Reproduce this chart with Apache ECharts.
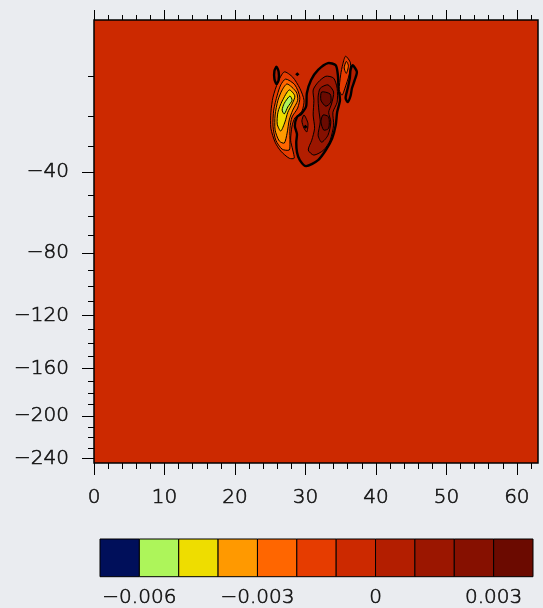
<!DOCTYPE html>
<html>
<head>
<meta charset="utf-8">
<script src="https://cdn.jsdelivr.net/npm/echarts@6/dist/echarts.min.js"></script>
<style>
  html, body { margin: 0; padding: 0; background: #eaecf0; }
  #main { width: 543px; height: 608px; }
</style>
</head>
<body>
<div id="main"></div>
<script>
// contour levels and colours (colorbar)
var LEVELS = [-0.006, -0.005, -0.004, -0.003, -0.002, -0.001, 0, 0.001, 0.002, 0.003];
var FILL_COLORS = ['#000f5a', '#adf55a', '#eedd00', '#ff9900', '#ff6600', '#e63c00',
                   '#cc2900', '#b31e00', '#9b1600', '#861000', '#6b0a00'];
var BAR_LABEL_AT = [-0.006, -0.003, 0, 0.003];

// axes
var X_MAJOR = [0, 10, 20, 30, 40, 50, 60];
var X_MINOR = [2, 4, 6, 8, 12, 14, 16, 18, 22, 24, 26, 28, 32, 34, 36, 38, 42, 44, 46, 48, 52, 54, 56, 58, 62];
var Y_MAJOR = [40, 80, 120, 160, 200, 240];           // depth, shown as negative
var Y_MINOR = [10, 20, 30, 50, 60, 70, 90, 100, 110, 130, 140, 150, 170, 180, 190, 210, 220, 230];
var DEPTH_TOP = 1.5, DEPTH_BOTTOM = 244.4;
var DEPTH_POW = 0.52;   // stretched depth axis

// contour outlines, [x, depth]
var neg1 = [[27.0,9.0],[28.2,10.1],[29.2,12.6],[29.8,15.6],[29.5,18.6],[28.5,20.6],[28.1,23.1],[27.9,27.8],[28.2,31.3],[28.4,34.4],[27.7,34.4],[26.5,31.7],[25.7,28.5],[25.1,23.8],[25.1,18.9],[25.4,14.8],[26.1,11.2]];
var neg2 = [[27.2,10.5],[28.5,11.8],[29.2,14.8],[28.9,17.7],[28.1,20.3],[27.8,23.8],[27.8,28.8],[27.7,31.3],[26.7,31.0],[25.8,27.8],[25.4,23.1],[25.5,18.3],[26.0,14.3],[26.5,11.8]];
var neg3 = [[27.4,11.6],[28.7,13.5],[28.9,15.6],[28.2,18.3],[27.7,21.2],[27.4,25.4],[27.0,28.8],[26.3,28.1],[25.7,24.4],[25.7,19.7],[26.1,15.6],[26.7,13.0]];
var neg4 = [[27.7,13.0],[28.5,14.5],[28.1,16.6],[27.5,18.9],[27.1,21.8],[26.5,24.7],[26.0,22.5],[26.1,18.9],[26.7,15.8]];
var neg5 = [[27.8,14.5],[28.1,15.6],[27.5,17.4],[27.0,19.4],[26.7,18.3],[27.0,16.4]];
var pos0 = [[31.8,8.6],[33.2,7.3],[34.3,7.7],[34.6,9.6],[34.7,12.6],[34.9,15.6],[34.5,18.9],[34.3,22.8],[33.8,27.1],[32.9,31.3],[31.8,35.1],[30.1,37.5],[29.2,35.1],[28.8,32.1],[28.7,28.5],[28.8,25.7],[28.5,23.1],[28.8,20.3],[29.4,19.4],[30.1,17.2],[30.2,13.8],[30.8,10.7]];
var pos1 = [[31.8,11.2],[32.9,9.9],[34.0,10.3],[34.5,12.6],[34.5,16.1],[33.9,18.9],[34.0,22.8],[33.5,27.8],[32.6,31.3],[31.2,33.2],[30.4,31.3],[30.9,27.8],[31.3,23.8],[31.1,19.7],[31.2,15.6],[31.1,13.0]];
var pos2 = [[32.1,12.6],[33.2,11.8],[34.0,13.5],[33.7,16.6],[33.3,18.9],[33.6,21.8],[33.2,26.1],[32.3,28.5],[31.8,26.1],[32.1,21.8],[31.9,18.3],[31.8,14.8]];
var pos3a = [[32.3,13.5],[33.5,14.0],[33.6,16.1],[32.9,17.2],[32.2,15.6]];
var pos3b = [[32.5,19.7],[33.3,20.3],[33.3,23.8],[32.6,24.4],[32.2,21.8]];
var posOval = [[25.9,8.0],[26.2,9.0],[26.2,10.7],[25.9,11.6],[25.6,10.5],[25.6,8.8]];
var negSliver = [[35.7,6.1],[36.4,7.3],[36.2,9.6],[35.6,12.6],[35.2,14.3],[34.8,13.0],[35.0,9.6],[35.3,7.5]];
var negSliver2 = [[35.8,7.0],[36.1,7.8],[35.8,9.3],[35.5,8.2]];
var posSliver = [[36.7,7.7],[37.3,9.0],[37.0,10.7],[36.6,12.6],[36.4,14.5],[36.0,16.1],[35.7,15.0],[36.0,12.6],[36.3,10.3],[36.4,8.6]];
var posDiamond = [[29.8,19.7],[30.35,22.2],[30.2,25.0],[29.8,23.8],[29.5,21.5]];
var dot1 = [[28.85,9.3],[29.0,9.5],[28.85,9.7],[28.7,9.5]];
var dot2 = [[30.0,23.0],[30.15,23.3],[30.0,23.6],[29.85,23.3]];

// level, above (true = values above level), outline
var CONTOURS = [
  [-0.001, false, neg1], [-0.002, false, neg2], [-0.003, false, neg3],
  [-0.004, false, neg4], [-0.005, false, neg5],
  [0, true, pos0], [0.001, true, pos1], [0.002, true, pos2],
  [0.003, true, pos3a], [0.003, true, pos3b],
  [0, true, posOval], [-0.001, false, negSliver], [-0.002, false, negSliver2],
  [0, true, posSliver], [0.001, true, posDiamond],
  [null, true, dot1], [null, true, dot2]
];

function tr(d) { return Math.pow(d, DEPTH_POW); }
function fmtLevel(v) {
  if (Math.abs(v) < 1e-9) return '0';
  return (v < 0 ? '\u2212' : '') + Math.abs(v).toFixed(3);
}
function fillFor(level, above) {
  if (level === null) return '#000';
  var i = LEVELS.findIndex(function (l) { return Math.abs(l - level) < 1e-9; });
  return FILL_COLORS[above ? i + 1 : i];
}

// thin font, thickened a little with a text border
var TEXT = {
  fontFamily: 'DejaVu Sans', fontWeight: 300, fontSize: 20, color: '#111',
  textBorderColor: '#111', textBorderWidth: 0.6
};

var chart = echarts.init(document.getElementById('main'));

function xAx(pos, vals, len, labels) {
  return {
    type: 'value', gridIndex: 0, position: pos, min: 0, max: 63,
    axisLine: { show: false },
    splitLine: { show: false },
    axisTick: { show: true, customValues: vals, length: len, lineStyle: { color: '#000', width: 1 } },
    axisLabel: labels ? Object.assign({ show: true, customValues: vals, margin: 25 }, TEXT) : { show: false }
  };
}
function yAx(vals, len, labels) {
  return {
    type: 'value', gridIndex: 0, position: 'left', inverse: true,
    min: tr(DEPTH_TOP), max: tr(DEPTH_BOTTOM),
    axisLine: { show: false },
    splitLine: { show: false },
    axisTick: { show: true, customValues: vals.map(tr), length: len, lineStyle: { color: '#000', width: 1 } },
    axisLabel: labels ? Object.assign({
      show: true, customValues: vals.map(tr), margin: 25,
      formatter: function (v) { return '\u2212' + Math.round(Math.pow(v, 1 / DEPTH_POW)); }
    }, TEXT) : { show: false }
  };
}

var option = {
  animation: false,
  backgroundColor: '#eaecf0',
  grid: [
    { left: 94, top: 20, width: 444, height: 443, show: true,
      backgroundColor: FILL_COLORS[6], borderColor: '#000', borderWidth: 1.5 },
    { left: 100, top: 539, width: 433, height: 39 }
  ],
  xAxis: [
    xAx('bottom', X_MAJOR, 12, true),
    xAx('bottom', X_MINOR, 6, false),
    xAx('top', X_MAJOR, 10, false),
    xAx('top', X_MINOR, 5, false),
    {
      type: 'value', gridIndex: 1, min: 0, max: 11,
      axisLine: { show: false }, axisTick: { show: false }, splitLine: { show: false },
      axisLabel: Object.assign({
        show: true, margin: 11,
        customValues: BAR_LABEL_AT.map(function (v) {
          return LEVELS.findIndex(function (l) { return Math.abs(l - v) < 1e-9; }) + 1;
        }),
        formatter: function (i) { return fmtLevel(LEVELS[Math.round(i) - 1]); }
      }, TEXT)
    }
  ],
  yAxis: [
    yAx(Y_MAJOR, 12, true),
    yAx(Y_MINOR, 6, false),
    { type: 'value', gridIndex: 1, min: 0, max: 1, show: false }
  ],
  series: [
    {
      type: 'custom', xAxisIndex: 0, yAxisIndex: 0, clip: true,
      data: CONTOURS.map(function (c, i) { return [c[2][0][0], tr(c[2][0][1]), i]; }),
      renderItem: function (params, api) {
        var c = CONTOURS[params.dataIndex];
        var pts = c[2].map(function (p) { return api.coord([p[0], tr(p[1])]); });
        return {
          type: 'polygon',
          shape: { points: pts, smooth: c[0] === null ? 0 : 0.25 },
          style: {
            fill: fillFor(c[0], c[1]),
            stroke: '#000',
            lineWidth: c[0] === 0 ? 2.4 : (c[0] === null ? 1.5 : 1)
          }
        };
      }
    },
    {
      type: 'custom', xAxisIndex: 4, yAxisIndex: 2,
      data: FILL_COLORS.map(function (c, i) { return [i, 0.5]; }),
      renderItem: function (params, api) {
        var i = params.dataIndex;
        var p0 = api.coord([i, 1]);
        var p1 = api.coord([i + 1, 0]);
        return {
          type: 'rect',
          shape: { x: p0[0], y: p0[1], width: p1[0] - p0[0], height: p1[1] - p0[1] },
          style: { fill: FILL_COLORS[i], stroke: '#000', lineWidth: 1 }
        };
      }
    }
  ]
};
chart.setOption(option);
</script>
</body>
</html>
